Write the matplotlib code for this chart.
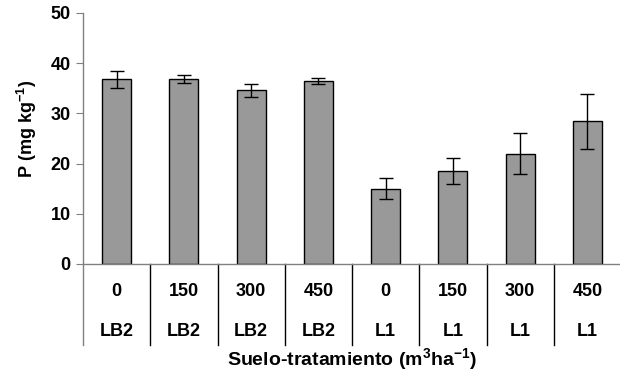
import matplotlib
matplotlib.use("Agg")
import matplotlib.pyplot as plt
import matplotlib.transforms as mtransforms

doses = ["0", "150", "300", "450", "0", "150", "300", "450"]
soils = ["LB2", "LB2", "LB2", "LB2", "L1", "L1", "L1", "L1"]
values = [36.8, 36.8, 34.6, 36.4, 15.0, 18.6, 22.0, 28.4]
errors = [1.7, 0.8, 1.3, 0.6, 2.1, 2.6, 4.0, 5.4]
yticks = [0, 10, 20, 30, 40, 50]

plt.rcParams['font.family'] = ['Liberation Sans', 'DejaVu Sans']
plt.rcParams['font.weight'] = 'bold'
plt.rcParams['mathtext.fontset'] = 'custom'
plt.rcParams['mathtext.rm'] = 'Liberation Sans:bold'
plt.rcParams['mathtext.bf'] = 'Liberation Sans:bold'
plt.rcParams['mathtext.it'] = 'Liberation Sans:bold'
plt.rcParams['mathtext.default'] = 'bf'

FS = 13

fig = plt.figure(figsize=(6.2, 3.78), dpi=100)
ax = fig.add_axes([83/620, 1-264/378, (621-83)/620, (264-13)/378])

x = list(range(len(values)))
ax.bar(x, values, width=0.43, color='#999999', edgecolor='black', linewidth=1.0,
       yerr=errors, error_kw=dict(ecolor='black', elinewidth=1.0, capsize=5, capthick=1.0), zorder=2)

ax.set_xlim(-0.5, 7.5)
ax.set_ylim(0, 50)
ax.set_yticks(yticks)
ax.set_yticklabels([str(t) for t in yticks], fontsize=FS, fontweight='bold')
ax.set_xticks([])
for s in ['top', 'right']:
    ax.spines[s].set_visible(False)
ax.spines['left'].set_color('#808080')
ax.spines['bottom'].set_color('#808080')
ax.spines['left'].set_linewidth(1.0)
ax.spines['bottom'].set_linewidth(1.0)
ax.tick_params(axis='y', direction='out', length=5, color='#808080', pad=4)

trans = mtransforms.blended_transform_factory(ax.transData, ax.transAxes)
for i in range(len(values)):
    xd = i - 0.5
    ax.plot([xd, xd], [0, -0.323], transform=trans, color='black' if i > 0 else '#808080',
            linewidth=1.0, clip_on=False)
    ax.text(i, -0.108, doses[i], transform=trans, ha='center', va='center',
            fontsize=FS, fontweight='bold')
    ax.text(i, -0.267, soils[i], transform=trans, ha='center', va='center',
            fontsize=FS, fontweight='bold')

fig.text(352/620, 1-359/378, 'Suelo-tratamiento (m$^{3}$ha$^{-1}$)',
         ha='center', va='center', fontsize=14, fontweight='bold')
fig.text(27/620, 1-129/378, 'P (mg kg$^{-1}$)', rotation=90,
         ha='center', va='center', fontsize=13, fontweight='bold')

fig.savefig('out.png', dpi=100)
